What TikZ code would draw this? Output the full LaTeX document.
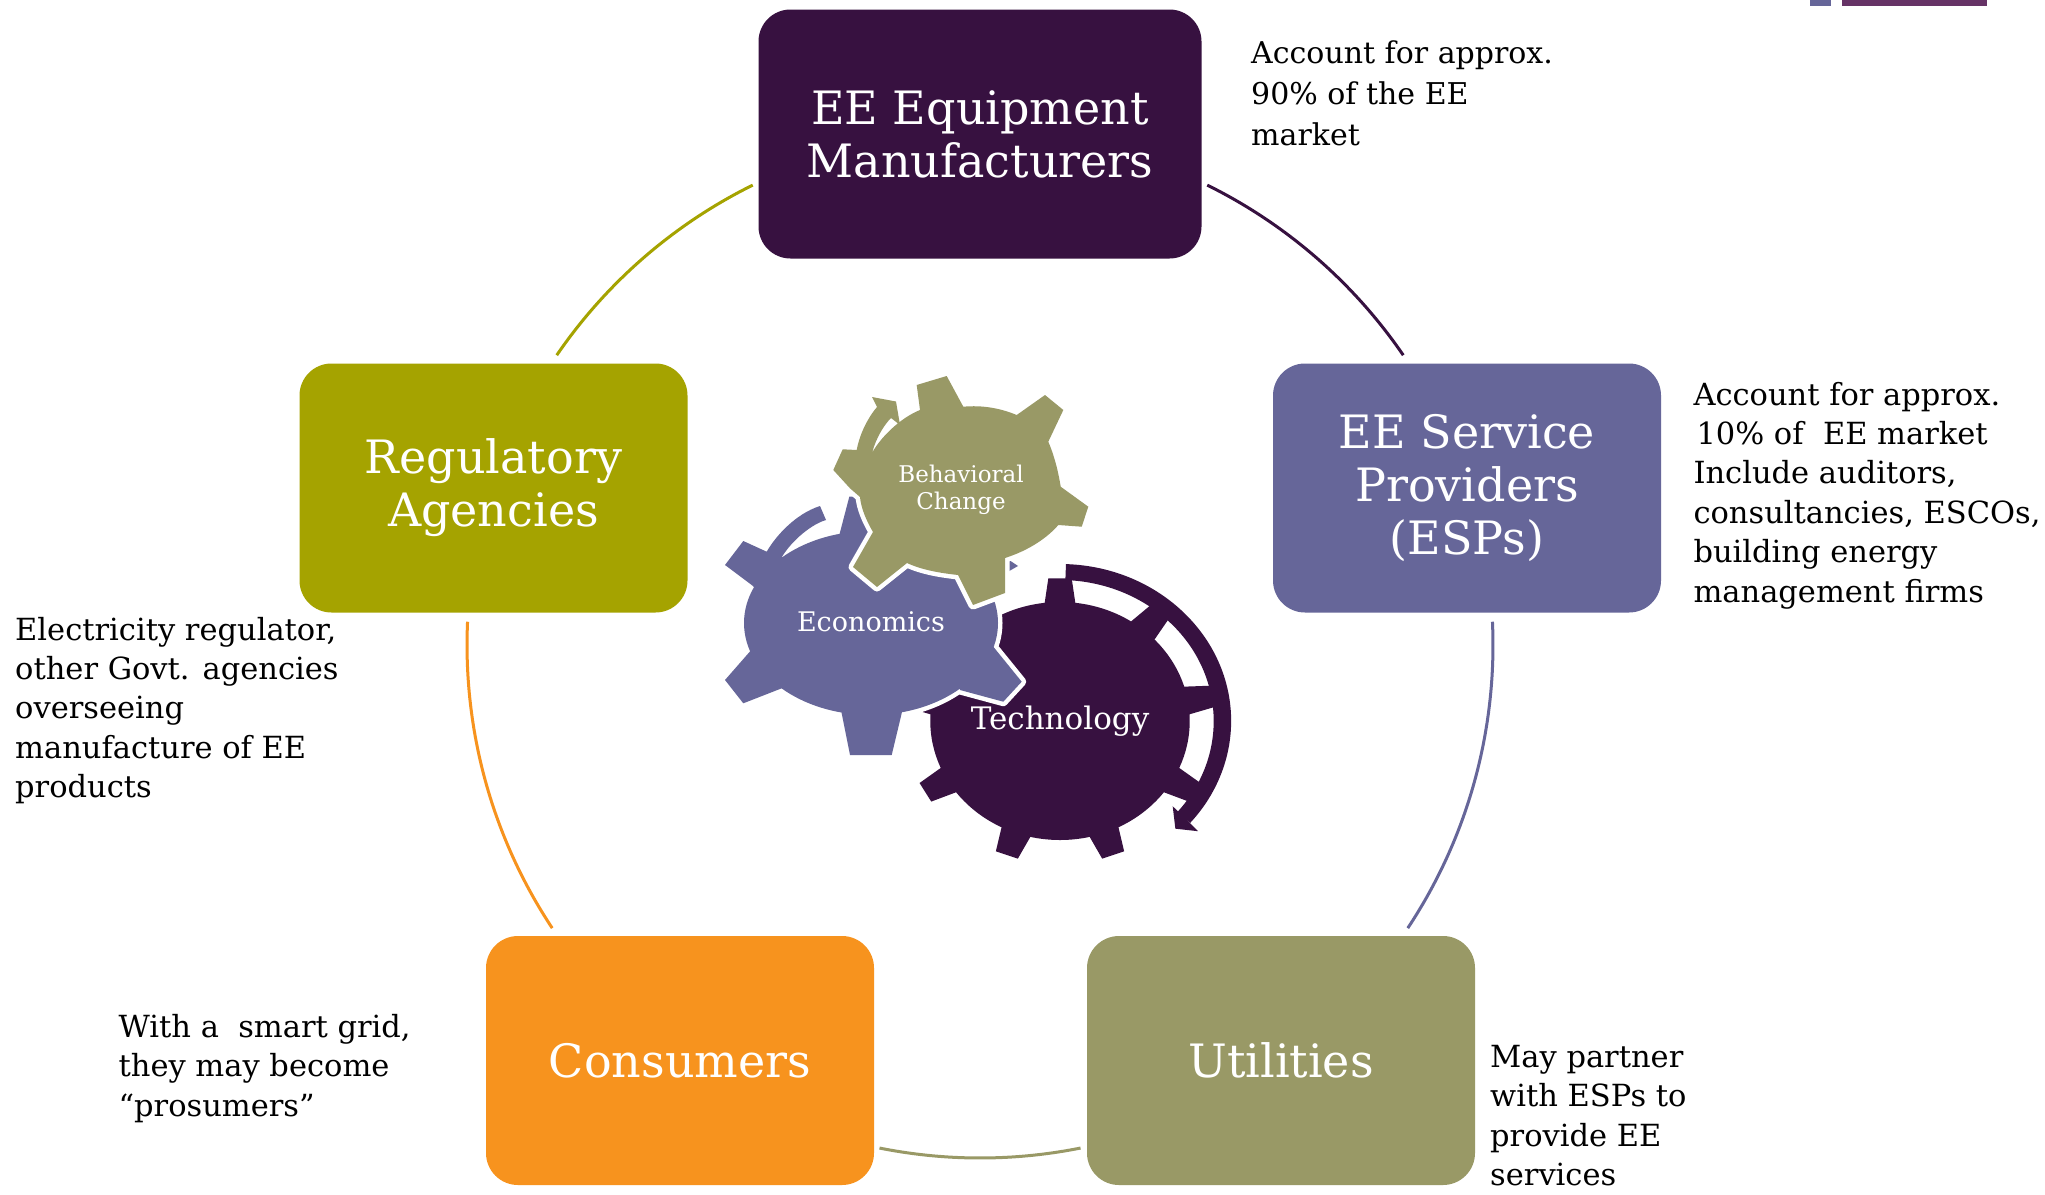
\documentclass[tikz,border=0pt]{standalone}
\usepackage{fontspec}
\setmainfont{DejaVu Serif}
\definecolor{dpurple}{HTML}{371140}
\definecolor{lav}{HTML}{666699}
\definecolor{khaki}{HTML}{999966}
\definecolor{olive}{HTML}{A5A300}
\definecolor{orng}{HTML}{F7931E}
\definecolor{plum}{HTML}{663366}
\begin{document}
\begin{tikzpicture}[x=1pt,y=-1pt,
  box/.style={rounded corners=32pt, minimum width=388pt, minimum height=249pt, inner sep=0pt,
              text=white, align=center, font=\fontsize{46}{53}\selectfont},
  note/.style={anchor=base west, align=left, inner sep=0pt, text=black, font=\fontsize{30.5}{39.4}\selectfont},
  ringline/.style={line width=3pt},
  halo/.style={draw=white, line width=9pt, line join=round},
  glabel/.style={text=white, inner sep=0pt, align=center}]
\useasboundingbox (0,0) rectangle (2045,1194);
\fill[white] (0,0) rectangle (2045,1194);

% top-right marks
\fill[lav] (1810,0) rectangle (1831,6);
\fill[plum] (1842,0) rectangle (1987,6);

% boxes
\node[box, fill=dpurple, minimum width=443pt] (mfr) at (980,134) {EE Equipment\\Manufacturers};
\node[box, fill=olive] (reg) at (493.5,488) {Regulatory\\Agencies};
\node[box, fill=lav] (esp) at (1467,488) {EE Service\\Providers\\(ESPs)};
\node[box, fill=orng] (con) at (680,1060.5) {Consumers};
\node[box, fill=khaki] (utl) at (1281,1060.5) {Utilities};

% circle arcs between boxes
\coordinate (ctr) at (980,645);
\begin{scope}[shift={(ctr)}, yscale=-1]
  \draw[ringline, olive] (116.3:513) arc[start angle=116.3, end angle=145.6, radius=513];
  \draw[ringline, dpurple] (63.7:513) arc[start angle=63.7, end angle=34.4, radius=513];
  \draw[ringline, lav] (2.6:513) arc[start angle=2.6, end angle=-33.5, radius=513];
  \draw[ringline, orng] (177.4:513) arc[start angle=177.4, end angle=213.5, radius=513];
  \draw[ringline, khaki] (-101.3:513) arc[start angle=-101.3, end angle=-78.7, radius=513];
\end{scope}

% notes (anchor = baseline of the last line)
\node[note, font=\fontsize{30}{41.3}\selectfont] (mfrnote) at (1251,145.9) {Account for approx.\\90\% of the EE\\market};
\node[note] (espnote) at (1693.3,602) {Account for approx.\\\hspace*{3pt}10\% of\ \ EE market\\Include auditors,\\consultancies, ESCOs,\\building energy\\management firms};
\node[note] (regnote) at (15,797.6) {Electricity regulator,\\other Govt. agencies\\overseeing\\manufacture of EE\\products};
\node[note] (connote) at (118.4,1116.1) {With a\ \ smart grid,\\they may become\\``prosumers''};
\node[note] (utlnote) at (1490,1185.5) {May partner\\with ESPs to\\provide EE\\services};

% Technology gear
\begin{scope}[shift={(1060,721)}, xscale=1.09, yscale=-1]
  \fill[dpurple] (0,0) circle[radius=119];
  \foreach \a in {-110,-70,-30,10,50,90,130,170,210}
    \fill[dpurple] ({\a-8}:110) -- ({\a-4.3}:143) -- ({\a+4.3}:143) -- ({\a+8}:110) -- cycle;
  \fill[dpurple] (88:157) arc[start angle=88, end angle=-40.5, radius=157]
     -- (-40.5:141) arc[start angle=-40.5, end angle=88, radius=141] -- cycle;
  \fill[dpurple] (-39.5:134) -- (-45.5:151) -- (-41:168) -- cycle;
\end{scope}

% Economics gear
\def\EcoBody{(871,623) ellipse[x radius=127, y radius=92]}
\def\EcoA{(762,594) -- (751.7,585) -- (725,565) -- (743.3,541) -- (766.7,551.7) .. controls (775,537) and (795,514) .. (820,506) -- (826,520) .. controls (812,524) and (792,540) .. (781.7,557.3) -- (792,580) -- cycle}
\def\EcoB{(753,648) -- (725,680) -- (743.3,703.3) -- (781.7,688.3) -- (790,660) -- cycle}
\def\EcoC{(840,700) -- (841.7,713.3) -- (850,755) -- (891.7,755) -- (901.7,713.3) -- (903,700) -- cycle}
\def\EcoD{(955,655) -- (993.3,646.7) -- (1021.7,681.7) -- (1003.3,701.7) -- (960,690) -- cycle}
\def\EcoE{(838,540) -- (849.3,496.7) -- (880,497) -- (885,545) -- cycle}
\def\EcoF{(1003,556) -- (1018,566) -- (1004,574) -- cycle}
\path[halo] \EcoBody \EcoA \EcoB \EcoC \EcoD \EcoE;
\fill[lav] \EcoBody;
\fill[lav] \EcoA;
\fill[lav] \EcoB;
\fill[lav] \EcoC;
\fill[lav] \EcoD;
\fill[lav] \EcoE;
\fill[lav] \EcoF;

% Behavioral Change gear
\def\Beh{(842.7,449.3) -- (856.7,450) .. controls (859,437) and (866,420) .. (877,407) -- (872,397) -- (896,401.5) -- (900,425) -- (891,418) .. controls (884,425) and (876,438) .. (872,453) .. controls (880,438) and (900,418) .. (920,410) -- (916.7,385) -- (946.7,376) -- (963.3,406.7) .. controls (982,405) and (1000,408) .. (1016.7,415) -- (1045,395) -- (1063.3,410) -- (1048.3,441.7) .. controls (1054,455) and (1058,470) .. (1060.7,486.7) -- (1088.3,506.7) -- (1081.7,526.7) -- (1058.3,525) .. controls (1048,537) and (1030,550) .. (1005,558) -- (1005,593) -- (973,605) -- (958,575) .. controls (940,573) and (922,570) .. (907,563) -- (877,587) -- (853,567) -- (873,532) .. controls (866,520) and (861,508) .. (860,497) -- (850,488.3) -- (833.3,470) -- cycle}
\path[halo] \Beh;
\fill[khaki] \Beh;

% gear labels
\node[glabel, font=\fontsize{23}{27.3}\selectfont] (behav) at (961,490) {Behavioral\\Change};
\node[glabel, anchor=base, font=\fontsize{27}{32}\selectfont] (econ) at (871,631.7) {Economics};
\node[glabel, anchor=base, font=\fontsize{31}{36}\selectfont] (tech) at (1060,729.5) {Technology};
\end{tikzpicture}
\end{document}
